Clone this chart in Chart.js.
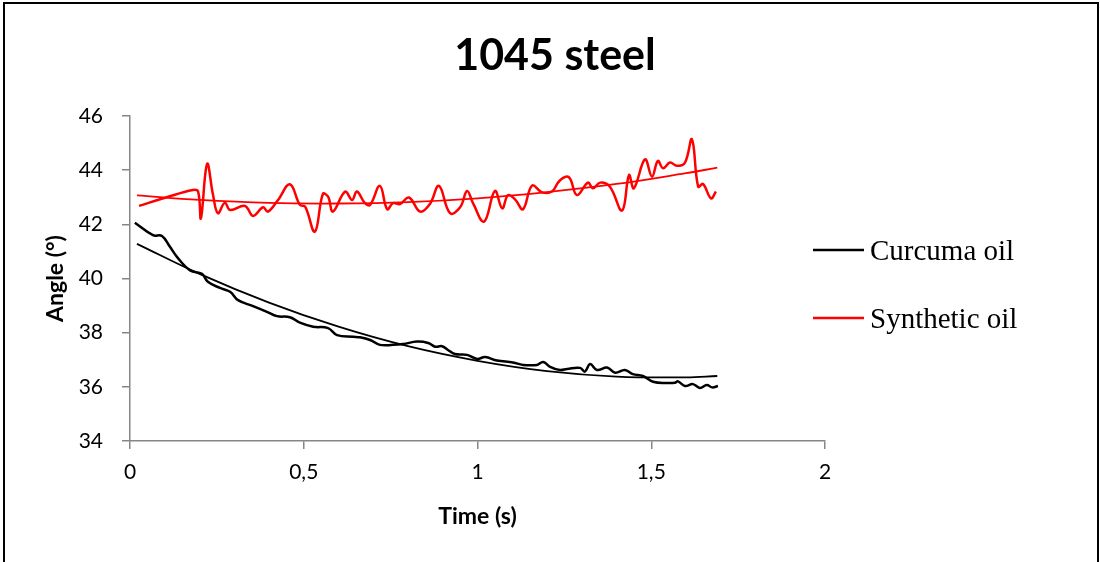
<!DOCTYPE html>
<html>
<head>
<meta charset="utf-8">
<script src="https://cdn.jsdelivr.net/npm/chart.js@4.4.1/dist/chart.umd.min.js"></script>
<style>
  body { margin: 0; background: #fff; }
  #wrap { position: relative; width: 1100px; height: 562px; overflow: hidden; }
  #frame { position: absolute; left: 3px; top: 2px; width: 1092px; height: 600px; border: 2px solid #000; pointer-events: none; }
</style>
</head>
<body>
<div id="wrap">
  <canvas id="myChart" width="1100" height="562"></canvas>
  <div id="frame"></div>
</div>
<script>
// values
var chartTitle = '1045 steel';
var xTickLabels = ['0', '0,5', '1', '1,5', '2'];

var timeCurcuma = [0.014, 0.066, 0.092, 0.115, 0.138, 0.173, 0.207, 0.224, 0.259, 0.288, 0.311, 0.354, 0.394, 0.423, 0.460, 0.489, 0.527, 0.570, 0.596, 0.642, 0.662,
  0.691, 0.719, 0.757, 0.786, 0.826, 0.858, 0.878, 0.898, 0.915, 0.935, 0.970, 0.999, 1.022, 1.056, 1.102, 1.131, 1.171, 1.189, 1.209, 1.237, 1.258, 1.295, 1.309,
  1.324, 1.344, 1.373, 1.396, 1.424, 1.447, 1.476, 1.505, 1.545, 1.568, 1.577, 1.597, 1.620, 1.640, 1.660, 1.675, 1.692];
var angleCurcuma = [42.06, 41.60, 41.57, 41.17, 40.75, 40.30, 40.17, 39.88, 39.65, 39.51, 39.20, 38.98, 38.77, 38.61, 38.57, 38.37, 38.22, 38.17, 37.91, 37.85, 37.83,
  37.73, 37.55, 37.55, 37.58, 37.67, 37.62, 37.48, 37.50, 37.36, 37.21, 37.18, 37.03, 37.10, 36.97, 36.90, 36.81, 36.81, 36.92, 36.74, 36.62, 36.66, 36.70, 36.56,
  36.84, 36.62, 36.71, 36.52, 36.62, 36.47, 36.40, 36.19, 36.14, 36.15, 36.20, 36.03, 36.10, 35.96, 36.07, 35.98, 36.03];

var timeSynthetic = [0.026, 0.101, 0.181, 0.196, 0.204, 0.222, 0.239, 0.253, 0.273, 0.288, 0.331, 0.354, 0.383, 0.397, 0.426, 0.460, 0.489, 0.504, 0.532, 0.555,
  0.570, 0.584, 0.619, 0.639, 0.653, 0.676, 0.691, 0.719, 0.740, 0.757, 0.777, 0.803, 0.835, 0.863, 0.889, 0.921, 0.950, 0.970, 0.987, 1.019, 1.050, 1.071, 1.088,
  1.108, 1.131, 1.157, 1.186, 1.214, 1.237, 1.263, 1.286, 1.318, 1.332, 1.353, 1.381, 1.416, 1.436, 1.450, 1.482, 1.502, 1.519, 1.534, 1.554, 1.574, 1.597, 1.617,
  1.635, 1.649, 1.672, 1.686];
var angleSynthetic = [42.68, 42.98, 43.27, 43.21, 42.22, 44.23, 43.08, 42.41, 42.80, 42.53, 42.68, 42.31, 42.63, 42.47, 42.90, 43.48, 42.72, 42.65, 41.73, 43.12,
  43.02, 42.47, 43.21, 42.90, 43.21, 42.78, 42.72, 43.42, 42.56, 42.78, 42.75, 42.99, 42.47, 42.75, 43.42, 42.41, 42.63, 43.23, 42.78, 42.10, 43.23, 42.59, 43.08,
  42.92, 42.56, 43.43, 43.18, 43.21, 43.62, 43.74, 43.08, 43.54, 43.33, 43.54, 43.39, 42.51, 43.82, 43.33, 44.40, 43.76, 44.34, 44.07, 44.28, 44.16, 44.28, 45.14,
  43.39, 43.49, 42.96, 43.21];

// trend lines (polynomial fits in the original)
var trendTime = [0.02, 0.2, 0.4, 0.6, 0.8, 1.0, 1.2, 1.4, 1.6, 1.69];
var trendCurcuma = [41.28, 40.17, 39.11, 38.22, 37.50, 36.96, 36.58, 36.38, 36.35, 36.40];
var trendSynthetic = [43.07, 42.90, 42.79, 42.77, 42.82, 42.96, 43.19, 43.49, 43.89, 44.09];

function pairs(xs, ys) {
  return xs.map(function (x, i) { return { x: x, y: ys[i] }; });
}

var axisGray = '#868686';

var frameText = {
  id: 'frameText',
  afterDraw: function (chart) {
    var ctx = chart.ctx;
    ctx.save();
    ctx.fillStyle = '#000';
    ctx.font = 'bold 43px Lato';
    ctx.textAlign = 'center';
    ctx.textBaseline = 'alphabetic';
    ctx.fillText(chartTitle, 555, 70);

    // legend: only the measured series, not the trend lines
    var rows = chart.data.datasets.filter(function (d) { return !d.isTrend; });
    ctx.font = '29px "Liberation Serif"';
    ctx.textAlign = 'left';
    rows.forEach(function (d, i) {
      var y = 250 + i * 68;
      ctx.strokeStyle = d.borderColor;
      ctx.lineWidth = 2.5;
      ctx.beginPath();
      ctx.moveTo(813, y);
      ctx.lineTo(864, y);
      ctx.stroke();
      ctx.fillText(d.label, 870, y + 10);
    });
    ctx.restore();
  }
};

var ctx = document.getElementById('myChart').getContext('2d');

var myChart = new Chart(ctx, {
  type: 'line',
  data: {
    datasets: [
      { label: 'Curcuma oil', data: pairs(timeCurcuma, angleCurcuma), borderColor: '#000000', borderWidth: 2.5, tension: 0.4 },
      { label: 'Synthetic oil', data: pairs(timeSynthetic, angleSynthetic), borderColor: '#ff0000', borderWidth: 2.5, tension: 0.4 },
      { label: 'Curcuma trend', isTrend: true, data: pairs(trendTime, trendCurcuma), borderColor: '#000000', borderWidth: 1.8, tension: 0.4 },
      { label: 'Synthetic trend', isTrend: true, data: pairs(trendTime, trendSynthetic), borderColor: '#ff0000', borderWidth: 1.8, tension: 0.4 }
    ]
  },
  options: {
    responsive: false,
    animation: false,
    devicePixelRatio: 1,
    elements: { point: { radius: 0 } },
    layout: { padding: { left: 0, right: 275, top: 116, bottom: 0 } },
    plugins: {
      legend: { display: false },
      title: { display: false },
      tooltip: { enabled: false }
    },
    scales: {
      x: {
        type: 'linear',
        min: 0,
        max: 2,
        afterFit: function (s) { s.height = 121; },
        ticks: {
          stepSize: 0.5,
          padding: 11,
          color: '#000',
          font: { family: 'Lato', size: 21 },
          callback: function (v, i) { return xTickLabels[i]; }
        },
        grid: { drawOnChartArea: false, tickLength: 8, color: axisGray, lineWidth: 1.5 },
        border: { color: axisGray, width: 1.5 },
        title: { display: true, text: 'Time (s)', color: '#000', font: { family: 'Lato', size: 23, weight: 'bold' }, padding: { top: 0, bottom: 32 } }
      },
      y: {
        min: 34,
        max: 46,
        afterFit: function (s) { s.width = 130; },
        ticks: {
          stepSize: 2,
          padding: 19,
          color: '#000',
          font: { family: 'Lato', size: 21 }
        },
        grid: { drawOnChartArea: false, tickLength: 8, color: axisGray, lineWidth: 1.5 },
        border: { color: axisGray, width: 1.5 },
        title: { display: true, text: 'Angle (°)', color: '#000', font: { family: 'Lato', size: 23, weight: 'bold' }, padding: { top: 42, bottom: 0 } }
      }
    }
  },
  plugins: [frameText]
});
</script>
</body>
</html>
